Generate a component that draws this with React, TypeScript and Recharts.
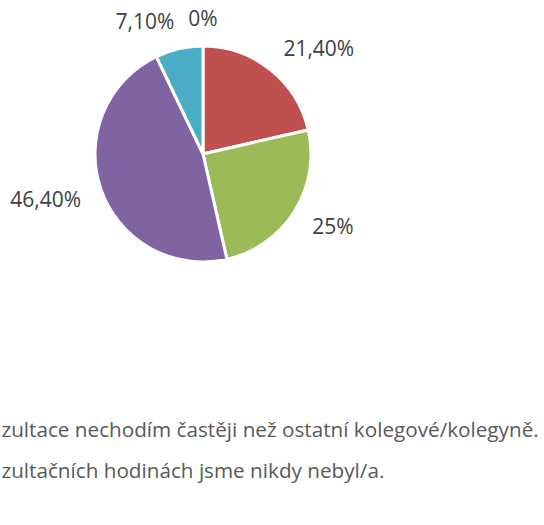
import React from "react";
import { PieChart, Pie, Cell, Legend } from "recharts";

const categories = [
  "Ano.",
  "Občas.",
  "Nevím.",
  "Na konzultace nechodím častěji než ostatní kolegové/kolegyně.",
  "Na konzultačních hodinách jsme nikdy nebyl/a.",
];
const shares = [0, 21.4, 25, 46.4, 7.1];
const colors = ["#4F81BD", "#C0504D", "#9BBB59", "#8064A2", "#4BACC6"];

const data = categories.map((name, i) => ({ name, value: shares[i] }));

const RAD = Math.PI / 180;
const FONT = "'Open Sans', sans-serif";

function fmt(v: number) {
  if (Number.isInteger(v)) return `${v}%`;
  return v.toFixed(2).replace(".", ",") + "%";
}

const renderLabel = (props: any) => {
  const { cx, cy, midAngle, outerRadius, value } = props;
  // labels sit on a slightly taller ellipse, like Excel's best fit
  const rx = outerRadius + 21;
  const ry = outerRadius + 28;
  const x = cx + rx * Math.cos(-midAngle * RAD);
  const y = cy + ry * Math.sin(-midAngle * RAD);
  const dx = x - cx;
  let anchor: "start" | "end" | "middle" = dx > 0 ? "start" : "end";
  if (Math.abs(dx) < rx * 0.1) anchor = "middle";
  return (
    <text
      x={x}
      y={y}
      textAnchor={anchor}
      dominantBaseline="central"
      fill="#404040"
      fontSize={21}
      fontFamily={FONT}
    >
      {fmt(value)}
    </text>
  );
};

const renderLegend = () => (
  <div style={{ fontFamily: FONT, fontSize: 20.7, color: "#595959" }}>
    {categories.map((c, i) => (
      <div
        key={c}
        style={{ height: 41.5, lineHeight: "41.5px", whiteSpace: "nowrap", position: "relative" }}
      >
        <span
          style={{
            position: "absolute",
            left: -18,
            top: 16,
            width: 10,
            height: 10,
            background: colors[i],
          }}
        />
        {c}
      </div>
    ))}
  </div>
);

export default function App() {
  return (
    <div style={{ position: "absolute", left: 0, top: 0, width: 544, height: 525, overflow: "hidden", background: "#fff" }}>
      <PieChart width={544} height={525} margin={{ top: 0, right: 0, bottom: 0, left: 0 }}>
        <Pie
          data={data}
          dataKey="value"
          nameKey="name"
          cx={203}
          cy={154}
          outerRadius={108}
          startAngle={90}
          endAngle={-270}
          stroke="#ffffff"
          strokeWidth={3}
          label={renderLabel}
          labelLine={false}
          isAnimationActive={false}
        >
          {data.map((d, i) => (
            <Cell key={d.name} fill={colors[i]} />
          ))}
        </Pie>
        <Legend
          layout="vertical"
          align="center"
          verticalAlign="middle"
          content={renderLegend}
          wrapperStyle={{ left: -67, top: 284, width: 760 }}
        />
      </PieChart>
    </div>
  );
}
